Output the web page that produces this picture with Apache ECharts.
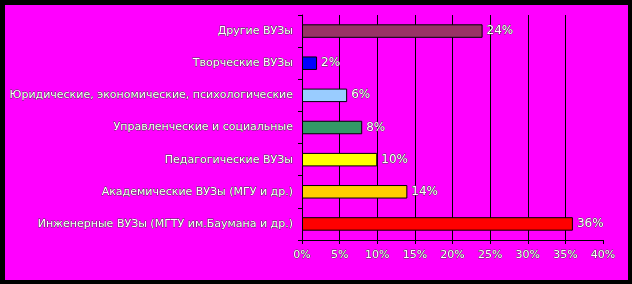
<!DOCTYPE html>
<html><head><meta charset="utf-8">
<script src="https://cdn.jsdelivr.net/npm/echarts@6/dist/echarts.min.js"></script>
<style>html,body{margin:0;padding:0;background:#000}#c{width:632px;height:284px}</style>
</head><body><div id="c"></div>
<script>
const categories = ['Другие ВУЗы','Творческие ВУЗы','Юридические, экономические, психологические','Управленческие и социальные','Педагогические ВУЗы','Академические ВУЗы (МГУ и др.)','Инженерные ВУЗы (МГТУ им.Баумана и др.)'];
const values = [24, 2, 6, 8, 10, 14, 36];
const barColors = ['#993366','#0000FF','#99CCFF','#339966','#FFFF00','#FFCC00','#FF0000'];
const xTicks = [0,5,10,15,20,25,30,35,40];

const txt = {color:'#fff', fontFamily:'DejaVu Sans, Liberation Sans, sans-serif', fontSize:11, textBorderColor:'#444', textBorderWidth:0.8};
const chart = echarts.init(document.getElementById('c'), null, {renderer:'canvas'});
chart.setOption({
  backgroundColor:'#000',
  animation:false,
  graphic:[{type:'rect', z:-10, silent:true, shape:{x:5,y:5,width:623,height:275}, style:{fill:'#FF00FF'}}],
  grid:{left:302, right:29, top:15, bottom:44},
  xAxis:{type:'value', min:xTicks[0], max:xTicks[xTicks.length-1], interval:5,
    axisLine:{show:true, lineStyle:{color:'#000', width:1}},
    axisTick:{show:true, length:4, lineStyle:{color:'#000'}},
    axisLabel:Object.assign({margin:10, formatter:v=>v+'%'}, txt),
    splitLine:{show:true, showMinLine:false, showMaxLine:false, lineStyle:{color:'#000', width:1}}},
  yAxis:{type:'category', inverse:true, data:categories,
    axisLine:{show:true, lineStyle:{color:'#000', width:1}},
    axisTick:{show:true, length:4, lineStyle:{color:'#000'}},
    axisLabel:Object.assign({margin:9}, txt)},
  series:[{type:'bar', barWidth:'42%',
    data:values.map((v,i)=>({value:v, itemStyle:{color:barColors[i]}})),
    itemStyle:{borderColor:'#000', borderWidth:1},
    label:Object.assign({show:true, position:'right', distance:4, formatter:p=>p.value+'%'}, txt, {fontSize:12})}]
});
</script></body></html>
